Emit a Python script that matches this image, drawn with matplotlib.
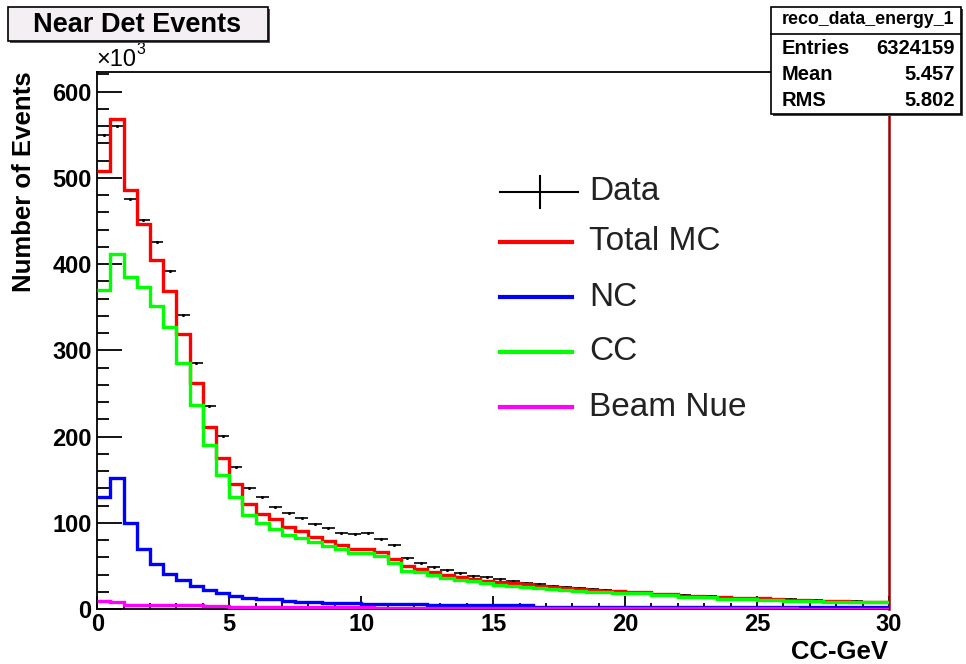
import numpy as np
import matplotlib
matplotlib.use("Agg")
import matplotlib.pyplot as plt
from matplotlib.patches import Rectangle
from matplotlib.lines import Line2D
from matplotlib.ticker import MultipleLocator

# ---------------- data (values in units of 10^3 events, 0.5 GeV bins) ----------------
bin_edges = np.arange(0, 30.01, 0.5)

data_vals = [550, 560, 476, 451, 426, 392, 341, 285, 236, 201,
             165, 141, 130, 118.5, 111.5, 105.7, 98.8, 93.8, 88.7, 87.2,
             88.7, 81.7, 74, 59, 53.9, 48.9, 45.4, 42.3, 38.5, 37,
             35, 32.7, 30.7, 29.2, 27.2, 25.4, 24, 23, 22, 21,
             20, 19.5, 18, 17.5, 16, 15.5, 14.8, 14.2, 13.5, 13,
             12.5, 12, 11.3, 10.8, 10.3, 9.8, 9.3, 9, 8.7, 8.4]

total_mc = [508, 568, 486, 446.5, 405, 368.5, 319, 262.5, 211.6, 175.5,
            145.5, 122, 110.4, 104.2, 95.6, 91, 84, 79, 74.4, 69.8,
            69.8, 66.7, 57.8, 50.1, 46.6, 43.5, 39.6, 37, 35.4, 33,
            31.9, 30, 28.9, 27.3, 25.7, 24.2, 23, 22.3, 21.4, 20.7,
            19.6, 19.6, 17.6, 17.6, 15.7, 15.0, 14.5, 14.5, 13.5, 13,
            12.6, 11.5, 11, 10.5, 10, 9.5, 9.0, 8.5, 8.5, 8.3]

cc_vals = [370, 411.4, 385.4, 373, 351.8, 327.5, 285.7, 237, 190.3, 155.4,
           130.4, 109.2, 99.5, 92.6, 86, 82.9, 77.5, 73.3, 69.8, 64.8,
           64.8, 61.7, 53.2, 44.6, 42.7, 40, 36.5, 33.8, 32.3, 30,
           28.4, 26.9, 26, 24.6, 23.4, 22.3, 21.1, 20.3, 19.9, 19.1,
           18.8, 18.8, 16.5, 16.5, 14.1, 14.1, 14.1, 12.2, 12.2, 12.2,
           10.7, 10.7, 9.5, 9.5, 9.5, 8.3, 8.3, 8.3, 8.3, 8.3]

nc_vals = [130.4, 152.4, 99.5, 69.8, 52.4, 40.8, 33.8, 27.2, 22.3, 19.1,
           15.3, 12.9, 11.7, 11.7, 9.8, 8.7, 8.7, 7.5, 7.5, 7.5,
           6.0, 6.0, 6.0, 6.0, 6.0, 4.5, 4.5, 4.5, 4.5, 4.5,
           4.5, 4.5, 4.5, 3.0, 3.0, 3.0, 3.0, 3.0, 3.0, 3.0,
           3.0, 2.2, 2.2, 2.2, 2.2, 2.2, 2.2, 2.2, 2.2, 2.2,
           2.2, 2.2, 2.2, 2.2, 2.2, 2.2, 2.2, 2.2, 2.2, 2.2]

nue_vals = [9.5, 8.3, 5.2, 5.2, 5.0, 4.8, 4.6, 4.4, 4.2, 4.0,
            3.0, 2.9, 2.9, 2.6, 2.5, 2.4, 2.3, 2.2, 2.1, 2.0,
            2.0, 1.9, 1.9, 1.8, 1.8, 1.7, 1.7, 1.6, 1.6, 1.5,
            1.5, 1.5, 1.4, 1.4, 1.4, 1.3, 1.3, 1.3, 1.2, 1.2,
            1.2, 1.1, 1.1, 1.1, 1.0, 1.0, 1.0, 1.0, 0.9, 0.9,
            0.9, 0.9, 0.9, 0.8, 0.8, 0.8, 0.8, 0.8, 0.8, 0.8]

legend_labels = ["Data", "Total MC", "NC", "CC", "Beam Nue"]
legend_colors = ["black", "#ff0000", "#0000ff", "#00ff00", "#ff00ff"]

x_ticks = [0, 5, 10, 15, 20, 25, 30]
y_ticks = [0, 100, 200, 300, 400, 500, 600]

stats_name = "reco_data_energy_1"
stats_rows = [("Entries", "6324159"), ("Mean", "5.457"), ("RMS", "5.802")]

# ---------------- figure ----------------
plt.rcParams['font.family'] = ['Liberation Sans', 'DejaVu Sans']
W, H = 966, 664
fig = plt.figure(figsize=(W / 100, H / 100), dpi=100)
fig.patch.set_facecolor("white")

def fx(x):
    return x / W

def fy(y):
    return 1 - y / H

ax = fig.add_axes([fx(97.3), fy(609.2), fx(889) - fx(97.3), fy(71.8) - fy(609.2)])
ax.set_xlim(0, 30)
ax.set_ylim(0, 623)

centers = 0.5 * (bin_edges[:-1] + bin_edges[1:])
ax.errorbar(centers, data_vals, xerr=0.25, fmt='.', color='black',
            markersize=2.5, elinewidth=1.2, capsize=0, zorder=2)

lw = 2.4
ax.stairs(total_mc, bin_edges, baseline=None, color='#ff0000', lw=lw, zorder=3)
ax.stairs(nc_vals, bin_edges, baseline=None, color='#0000ff', lw=lw, zorder=3)
ax.stairs(cc_vals, bin_edges, baseline=None, color='#00ff00', lw=lw, zorder=4)
ax.stairs(nue_vals, bin_edges, baseline=None, color='#ff00ff', lw=lw, zorder=5)

# axes styling (ROOT look)
for s in ['left', 'bottom', 'top']:
    ax.spines[s].set_color('black')
    ax.spines[s].set_linewidth(1.3)
ax.spines['right'].set_color('#a00000')
ax.spines['right'].set_linewidth(1.8)

ax.set_xticks(x_ticks)
ax.set_yticks(y_ticks)
ax.xaxis.set_minor_locator(MultipleLocator(1))
ax.yaxis.set_minor_locator(MultipleLocator(20))
ax.tick_params(axis='y', which='major', direction='in', length=18, width=1.3,
               left=True, right=False, labelsize=17, pad=4)
ax.tick_params(axis='y', which='minor', direction='in', length=8.6, width=1.3,
               left=True, right=False)
ax.tick_params(axis='x', which='major', direction='in', length=9.5, width=1.3,
               bottom=True, top=False, labelsize=17, pad=3)
ax.tick_params(axis='x', which='minor', direction='in', length=4.5, width=1.3,
               bottom=True, top=False)
for lab in ax.get_xticklabels() + ax.get_yticklabels():
    lab.set_fontweight('bold')

# axis titles
fig.text(fx(888), fy(652), "CC-GeV", ha='right', va='center',
         fontsize=18.5, fontweight='bold')
fig.text(fx(24), fy(71), "Number of Events", rotation=90, ha='center', va='top',
         fontsize=18.5, fontweight='bold')
fig.text(fx(96), fy(60), "\u00d710", ha='left', va='center', fontsize=17)
fig.text(fx(136), fy(49), "3", ha='left', va='center', fontsize=11.5)

# title box
fig.add_artist(Rectangle((fx(10), fy(43)), fx(260), fy(9) - fy(43),
                         transform=fig.transFigure, facecolor='#555555',
                         edgecolor='none', zorder=5))
fig.add_artist(Rectangle((fx(8), fy(41)), fx(260), fy(7) - fy(41),
                         transform=fig.transFigure, facecolor='#f3eff3',
                         edgecolor='black', lw=1.2, zorder=6))
fig.text(fx(137), fy(25), "Near Det Events", ha='center', va='center',
         fontsize=19.5, fontweight='bold', zorder=7)

# stats box
fig.add_artist(Rectangle((fx(773), fy(116)), fx(190), fy(9) - fy(116),
                         transform=fig.transFigure, facecolor='#444444',
                         edgecolor='none', zorder=5))
fig.add_artist(Rectangle((fx(771), fy(114)), fx(190), fy(7) - fy(114),
                         transform=fig.transFigure, facecolor='white',
                         edgecolor='black', lw=1.2, zorder=6))
fig.add_artist(Line2D([fx(771), fx(961)], [fy(34), fy(34)],
                      transform=fig.transFigure, color='black', lw=1.2, zorder=7))
fig.text(fx(868), fy(20), stats_name, ha='center', va='center',
         fontsize=12.8, fontweight='bold', zorder=8)
for i, (k, v) in enumerate(stats_rows):
    yy = 49 + i * 26
    fig.text(fx(782), fy(yy), k, ha='left', va='center', fontsize=14.5,
             fontweight='bold', zorder=8)
    fig.text(fx(955), fy(yy), v, ha='right', va='center', fontsize=14.5,
             fontweight='bold', zorder=8)

# legend (drawn manually to match ROOT TLegend)
row_y = [191.7, 242, 297, 352, 407]
for lab, col, yy in zip(legend_labels, legend_colors, row_y):
    if lab == "Data":
        fig.add_artist(Line2D([fx(500), fx(578)], [fy(yy), fy(yy)],
                              transform=fig.transFigure, color='black', lw=1.5))
        fig.add_artist(Line2D([fx(540), fx(540)], [fy(yy - 16), fy(yy + 16)],
                              transform=fig.transFigure, color='black', lw=1.5))
    else:
        fig.add_artist(Line2D([fx(500), fx(572)], [fy(yy), fy(yy)],
                              transform=fig.transFigure, color=col, lw=3))
    fig.text(fx(589), fy(yy), lab, ha='left', va='center', fontsize=24,
             color='#222222')

fig.savefig("out.png", dpi=100)
